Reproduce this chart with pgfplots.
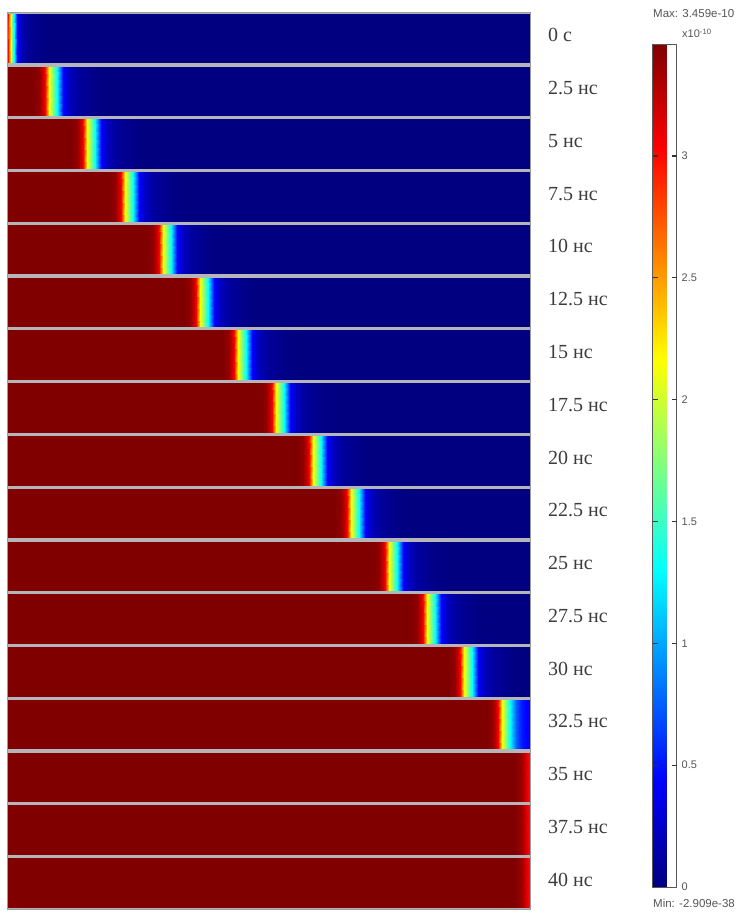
\documentclass[border=0pt]{standalone}
\usepackage{fontspec}
\setmainfont{Liberation Serif}
\setsansfont{Liberation Sans}
\usepackage{pgfplots}
\pgfplotsset{compat=1.18}
\definecolor{sepgray}{RGB}{182,182,186}
\definecolor{labelgray}{RGB}{60,60,60}
\definecolor{cbgray}{RGB}{85,85,85}
\begin{document}
\begin{tikzpicture}
\useasboundingbox (0pt,0pt) rectangle (738pt,-915pt);
\begin{axis}[
  at={(7pt,-909pt)}, anchor=south west,
  scale only axis, width=523pt, height=897pt,
  xmin=7, xmax=530, ymin=0, ymax=17,
  axis background/.style={fill=sepgray},
  axis line style={draw=sepgray!85!black, line width=0.8pt},
  xtick=\empty,
  ytick={0.5,1.5,2.5,3.5,4.5,5.5,6.5,7.5,8.5,9.5,10.5,11.5,12.5,13.5,14.5,15.5,16.5},
  yticklabels={40 нс,37.5 нс,35 нс,32.5 нс,30 нс,27.5 нс,25 нс,22.5 нс,20 нс,17.5 нс,15 нс,12.5 нс,10 нс,7.5 нс,5 нс,2.5 нс,0 с},
  yticklabel pos=right,
  major tick length=0pt,
  yticklabel style={font=\fontsize{20}{22}\selectfont, text=labelgray, anchor=west, inner sep=0pt, xshift=18pt, yshift=3pt},
  colormap/jet,
  point meta min=0, point meta max=3.459,
  colorbar,
  colorbar style={
    at={(parent axis.north east)}, anchor=north west,
    xshift=114pt, yshift=-32pt,
    scale only axis, width=24pt, height=843pt,
    ymin=0, ymax=3.459,
    ytick={0,0.5,1,1.5,2,2.5,3},
    yticklabels={0,0.5,1,1.5,2,2.5,3},
    yticklabel pos=right,
    major tick length=0pt,
    axis line style={draw=gray!70!black, line width=1pt},
    every y tick label/.style={font=\fontsize{11}{12}\selectfont\sffamily, text=cbgray, anchor=west, inner sep=1pt, xshift=4pt},
  },
]
% 0 s
\addplot[surf, shader=interp, point meta=\thisrow{c}] table {
x y c
8 16.035 3.0
9.5 16.035 2.6
11 16.035 2.16
12.5 16.035 1.73
14 16.035 1.30
17 16.035 0.45
21 16.035 0.20
28 16.035 0.08
40 16.035 0.02
55 16.035 0
529 16.035 0

8 16.965 3.0
9.5 16.965 2.6
11 16.965 2.16
12.5 16.965 1.73
14 16.965 1.30
17 16.965 0.45
21 16.965 0.20
28 16.965 0.08
40 16.965 0.02
55 16.965 0
529 16.965 0
};
% 2.5 ns
\addplot[surf, shader=interp, point meta=\thisrow{c}] table {
x y c
8 15.035 3.459
33.5 15.035 3.459
39.5 15.035 3.40
43.5 15.035 3.20
45.5 15.035 3.03
49.5 15.035 2.16
53.5 15.035 1.73
57.5 15.035 1.30
63.5 15.035 0.45
69.5 15.035 0.22
78.5 15.035 0.10
93.5 15.035 0.03
108.5 15.035 0
529 15.035 0

8 15.965 3.459
33.5 15.965 3.459
39.5 15.965 3.40
43.5 15.965 3.20
45.5 15.965 3.03
49.5 15.965 2.16
53.5 15.965 1.73
57.5 15.965 1.30
63.5 15.965 0.45
69.5 15.965 0.22
78.5 15.965 0.10
93.5 15.965 0.03
108.5 15.965 0
529 15.965 0
};
% 5 ns
\addplot[surf, shader=interp, point meta=\thisrow{c}] table {
x y c
8 14.035 3.459
71.2 14.035 3.459
77.2 14.035 3.40
81.2 14.035 3.20
83.2 14.035 3.03
87.2 14.035 2.16
91.2 14.035 1.73
95.2 14.035 1.30
101.2 14.035 0.45
107.2 14.035 0.22
116.2 14.035 0.10
131.2 14.035 0.03
146.2 14.035 0
529 14.035 0

8 14.965 3.459
71.2 14.965 3.459
77.2 14.965 3.40
81.2 14.965 3.20
83.2 14.965 3.03
87.2 14.965 2.16
91.2 14.965 1.73
95.2 14.965 1.30
101.2 14.965 0.45
107.2 14.965 0.22
116.2 14.965 0.10
131.2 14.965 0.03
146.2 14.965 0
529 14.965 0
};
% 7.5 ns
\addplot[surf, shader=interp, point meta=\thisrow{c}] table {
x y c
8 13.035 3.459
108.9 13.035 3.459
114.9 13.035 3.40
118.9 13.035 3.20
120.9 13.035 3.03
124.9 13.035 2.16
128.9 13.035 1.73
132.9 13.035 1.30
138.9 13.035 0.45
144.9 13.035 0.22
153.9 13.035 0.10
168.9 13.035 0.03
183.9 13.035 0
529 13.035 0

8 13.965 3.459
108.9 13.965 3.459
114.9 13.965 3.40
118.9 13.965 3.20
120.9 13.965 3.03
124.9 13.965 2.16
128.9 13.965 1.73
132.9 13.965 1.30
138.9 13.965 0.45
144.9 13.965 0.22
153.9 13.965 0.10
168.9 13.965 0.03
183.9 13.965 0
529 13.965 0
};
% 10 ns
\addplot[surf, shader=interp, point meta=\thisrow{c}] table {
x y c
8 12.035 3.459
146.6 12.035 3.459
152.6 12.035 3.40
156.6 12.035 3.20
158.6 12.035 3.03
162.6 12.035 2.16
166.6 12.035 1.73
170.6 12.035 1.30
176.6 12.035 0.45
182.6 12.035 0.22
191.6 12.035 0.10
206.6 12.035 0.03
221.6 12.035 0
529 12.035 0

8 12.965 3.459
146.6 12.965 3.459
152.6 12.965 3.40
156.6 12.965 3.20
158.6 12.965 3.03
162.6 12.965 2.16
166.6 12.965 1.73
170.6 12.965 1.30
176.6 12.965 0.45
182.6 12.965 0.22
191.6 12.965 0.10
206.6 12.965 0.03
221.6 12.965 0
529 12.965 0
};
% 12.5 ns
\addplot[surf, shader=interp, point meta=\thisrow{c}] table {
x y c
8 11.035 3.459
184.3 11.035 3.459
190.3 11.035 3.40
194.3 11.035 3.20
196.3 11.035 3.03
200.3 11.035 2.16
204.3 11.035 1.73
208.3 11.035 1.30
214.3 11.035 0.45
220.3 11.035 0.22
229.3 11.035 0.10
244.3 11.035 0.03
259.3 11.035 0
529 11.035 0

8 11.965 3.459
184.3 11.965 3.459
190.3 11.965 3.40
194.3 11.965 3.20
196.3 11.965 3.03
200.3 11.965 2.16
204.3 11.965 1.73
208.3 11.965 1.30
214.3 11.965 0.45
220.3 11.965 0.22
229.3 11.965 0.10
244.3 11.965 0.03
259.3 11.965 0
529 11.965 0
};
% 15 ns
\addplot[surf, shader=interp, point meta=\thisrow{c}] table {
x y c
8 10.035 3.459
222 10.035 3.459
228 10.035 3.40
232 10.035 3.20
234 10.035 3.03
238 10.035 2.16
242 10.035 1.73
246 10.035 1.30
252 10.035 0.45
258 10.035 0.22
267 10.035 0.10
282 10.035 0.03
297 10.035 0
529 10.035 0

8 10.965 3.459
222 10.965 3.459
228 10.965 3.40
232 10.965 3.20
234 10.965 3.03
238 10.965 2.16
242 10.965 1.73
246 10.965 1.30
252 10.965 0.45
258 10.965 0.22
267 10.965 0.10
282 10.965 0.03
297 10.965 0
529 10.965 0
};
% 17.5 ns
\addplot[surf, shader=interp, point meta=\thisrow{c}] table {
x y c
8 9.035 3.459
259.7 9.035 3.459
265.7 9.035 3.40
269.7 9.035 3.20
271.7 9.035 3.03
275.7 9.035 2.16
279.7 9.035 1.73
283.7 9.035 1.30
289.7 9.035 0.45
295.7 9.035 0.22
304.7 9.035 0.10
319.7 9.035 0.03
334.7 9.035 0
529 9.035 0

8 9.965 3.459
259.7 9.965 3.459
265.7 9.965 3.40
269.7 9.965 3.20
271.7 9.965 3.03
275.7 9.965 2.16
279.7 9.965 1.73
283.7 9.965 1.30
289.7 9.965 0.45
295.7 9.965 0.22
304.7 9.965 0.10
319.7 9.965 0.03
334.7 9.965 0
529 9.965 0
};
% 20 ns
\addplot[surf, shader=interp, point meta=\thisrow{c}] table {
x y c
8 8.035 3.459
297.4 8.035 3.459
303.4 8.035 3.40
307.4 8.035 3.20
309.4 8.035 3.03
313.4 8.035 2.16
317.4 8.035 1.73
321.4 8.035 1.30
327.4 8.035 0.45
333.4 8.035 0.22
342.4 8.035 0.10
357.4 8.035 0.03
372.4 8.035 0
529 8.035 0

8 8.965 3.459
297.4 8.965 3.459
303.4 8.965 3.40
307.4 8.965 3.20
309.4 8.965 3.03
313.4 8.965 2.16
317.4 8.965 1.73
321.4 8.965 1.30
327.4 8.965 0.45
333.4 8.965 0.22
342.4 8.965 0.10
357.4 8.965 0.03
372.4 8.965 0
529 8.965 0
};
% 22.5 ns
\addplot[surf, shader=interp, point meta=\thisrow{c}] table {
x y c
8 7.035 3.459
335.1 7.035 3.459
341.1 7.035 3.40
345.1 7.035 3.20
347.1 7.035 3.03
351.1 7.035 2.16
355.1 7.035 1.73
359.1 7.035 1.30
365.1 7.035 0.45
371.1 7.035 0.22
380.1 7.035 0.10
395.1 7.035 0.03
410.1 7.035 0
529 7.035 0

8 7.965 3.459
335.1 7.965 3.459
341.1 7.965 3.40
345.1 7.965 3.20
347.1 7.965 3.03
351.1 7.965 2.16
355.1 7.965 1.73
359.1 7.965 1.30
365.1 7.965 0.45
371.1 7.965 0.22
380.1 7.965 0.10
395.1 7.965 0.03
410.1 7.965 0
529 7.965 0
};
% 25 ns
\addplot[surf, shader=interp, point meta=\thisrow{c}] table {
x y c
8 6.035 3.459
372.8 6.035 3.459
378.8 6.035 3.40
382.8 6.035 3.20
384.8 6.035 3.03
388.8 6.035 2.16
392.8 6.035 1.73
396.8 6.035 1.30
402.8 6.035 0.45
408.8 6.035 0.22
417.8 6.035 0.10
432.8 6.035 0.03
447.8 6.035 0
529 6.035 0

8 6.965 3.459
372.8 6.965 3.459
378.8 6.965 3.40
382.8 6.965 3.20
384.8 6.965 3.03
388.8 6.965 2.16
392.8 6.965 1.73
396.8 6.965 1.30
402.8 6.965 0.45
408.8 6.965 0.22
417.8 6.965 0.10
432.8 6.965 0.03
447.8 6.965 0
529 6.965 0
};
% 27.5 ns
\addplot[surf, shader=interp, point meta=\thisrow{c}] table {
x y c
8 5.035 3.459
410.5 5.035 3.459
416.5 5.035 3.40
420.5 5.035 3.20
422.5 5.035 3.03
426.5 5.035 2.16
430.5 5.035 1.73
434.5 5.035 1.30
440.5 5.035 0.45
446.5 5.035 0.22
455.5 5.035 0.10
470.5 5.035 0.03
485.5 5.035 0
529 5.035 0

8 5.965 3.459
410.5 5.965 3.459
416.5 5.965 3.40
420.5 5.965 3.20
422.5 5.965 3.03
426.5 5.965 2.16
430.5 5.965 1.73
434.5 5.965 1.30
440.5 5.965 0.45
446.5 5.965 0.22
455.5 5.965 0.10
470.5 5.965 0.03
485.5 5.965 0
529 5.965 0
};
% 30 ns
\addplot[surf, shader=interp, point meta=\thisrow{c}] table {
x y c
8 4.035 3.459
448.2 4.035 3.459
454.2 4.035 3.40
458.2 4.035 3.20
460.2 4.035 3.03
464.2 4.035 2.16
468.2 4.035 1.73
472.2 4.035 1.30
478.2 4.035 0.45
484.2 4.035 0.22
493.2 4.035 0.10
508.2 4.035 0.03
523.2 4.035 0
529 4.035 0

8 4.965 3.459
448.2 4.965 3.459
454.2 4.965 3.40
458.2 4.965 3.20
460.2 4.965 3.03
464.2 4.965 2.16
468.2 4.965 1.73
472.2 4.965 1.30
478.2 4.965 0.45
484.2 4.965 0.22
493.2 4.965 0.10
508.2 4.965 0.03
523.2 4.965 0
529 4.965 0
};
% 32.5 ns
\addplot[surf, shader=interp, point meta=\thisrow{c}] table {
x y c
8 3.035 3.459
485.9 3.035 3.459
491.9 3.035 3.40
495.9 3.035 3.20
497.9 3.035 3.03
501.9 3.035 2.16
505.9 3.035 1.73
509.9 3.035 1.30
515.9 3.035 0.75
521.9 3.035 0.50
529 3.035 0.40

8 3.965 3.459
485.9 3.965 3.459
491.9 3.965 3.40
495.9 3.965 3.20
497.9 3.965 3.03
501.9 3.965 2.16
505.9 3.965 1.73
509.9 3.965 1.30
515.9 3.965 0.75
521.9 3.965 0.50
529 3.965 0.40
};
% 35 ns
\addplot[surf, shader=interp, point meta=\thisrow{c}] table {
x y c
8 2.035 3.459
515 2.035 3.459
522 2.035 3.35
526 2.035 3.15
529 2.035 3.0

8 2.965 3.459
515 2.965 3.459
522 2.965 3.35
526 2.965 3.15
529 2.965 3.0
};
% 37.5 ns
\addplot[surf, shader=interp, point meta=\thisrow{c}] table {
x y c
8 1.035 3.459
515 1.035 3.459
522 1.035 3.35
526 1.035 3.15
529 1.035 3.0

8 1.965 3.459
515 1.965 3.459
522 1.965 3.35
526 1.965 3.15
529 1.965 3.0
};
% 40 ns
\addplot[surf, shader=interp, point meta=\thisrow{c}] table {
x y c
8 0.035 3.459
515 0.035 3.459
522 0.035 3.35
526 0.035 3.15
529 0.035 3.0

8 0.965 3.459
515 0.965 3.459
522 0.965 3.35
526 0.965 3.15
529 0.965 3.0
};
\end{axis}
\foreach \yy in {765.15,643.3,521.45,399.6,277.75,155.9} {
  \draw[black!80, line width=1.2pt] (652.5pt,-\yy pt) -- (657.5pt,-\yy pt);
  \draw[black!80, line width=1.2pt] (676.5pt,-\yy pt) -- (671.5pt,-\yy pt);
}
\node[anchor=west, inner sep=0pt, font=\fontsize{11.5}{12}\selectfont\sffamily, text=cbgray] at (653pt,-14pt) {Max: 3.459e-10};
\node[anchor=base west, inner sep=0pt, font=\fontsize{11}{12}\selectfont\sffamily, text=cbgray] at (682pt,-38pt) {x10\textsuperscript{-10}};
\node[anchor=west, inner sep=0pt, font=\fontsize{11.5}{12}\selectfont\sffamily, text=cbgray] at (653pt,-903pt) {Min: -2.909e-38};
\end{tikzpicture}
\end{document}
